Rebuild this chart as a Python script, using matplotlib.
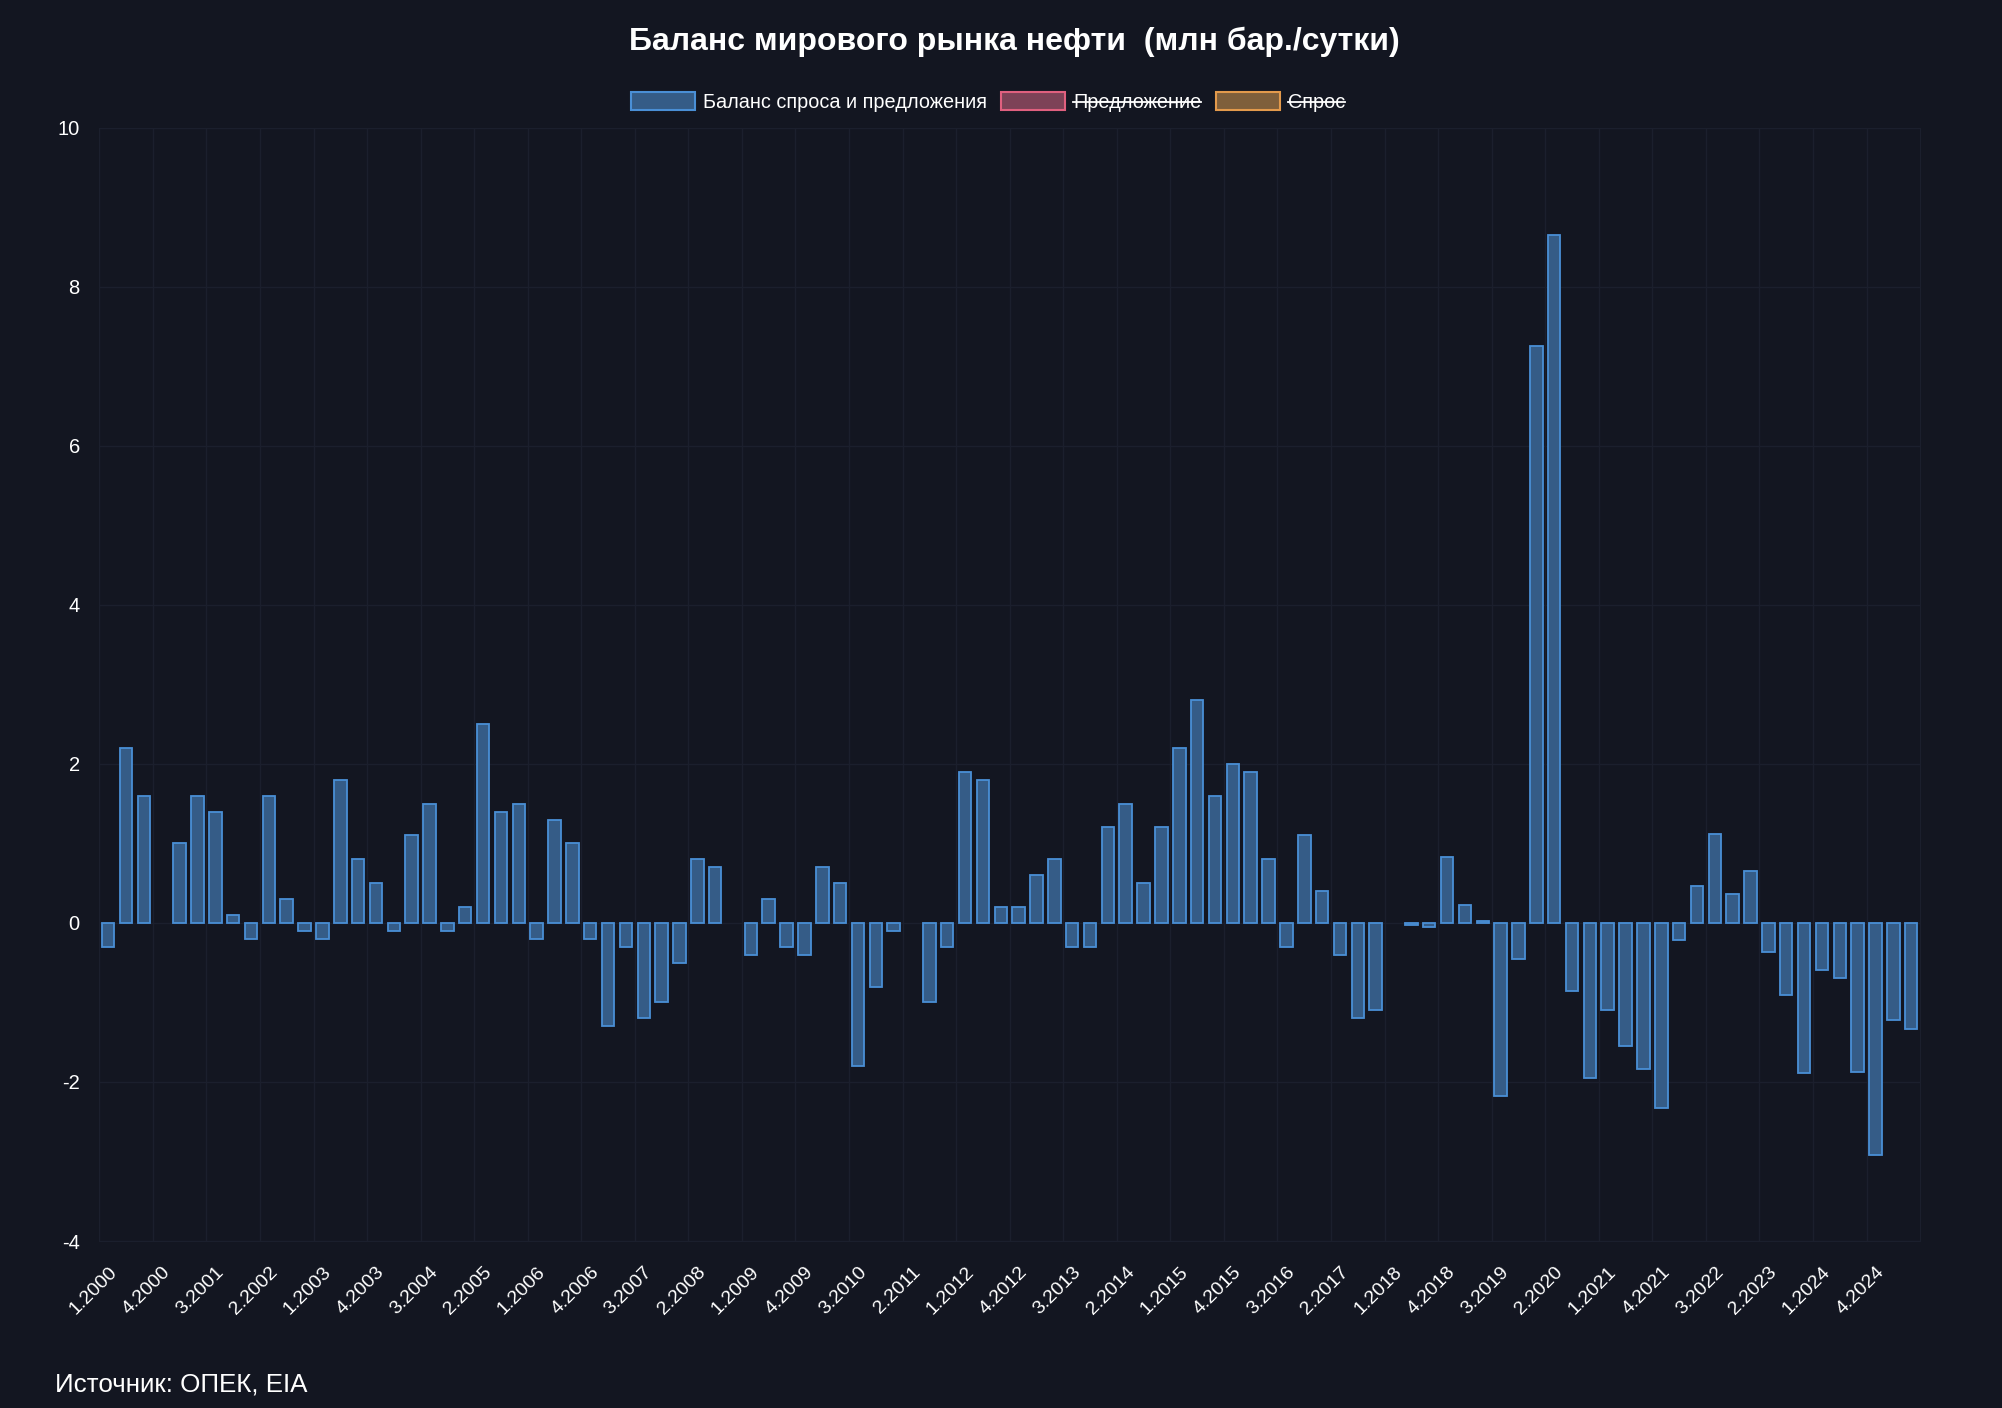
"""
Баланс мирового рынка нефти, квартальные данные 2000-2025.
"""
import numpy as np
import matplotlib.pyplot as plt
from matplotlib.patches import Patch

BG = "#131621"
GRID = "#1b1f2d"
TEXT = "#ffffff"

quarters = [f"{q}.{y}" for y in range(2000, 2026) for q in range(1, 5)][:102]

# nan - квартал без значения (столбец не рисуется)
balance = [
    -0.3, 2.2, 1.6, np.nan, 1.0, 1.6, 1.4, 0.1, -0.2, 1.6,
    0.3, -0.1, -0.2, 1.8, 0.8, 0.5, -0.1, 1.1, 1.5, -0.1,
    0.2, 2.5, 1.4, 1.5, -0.2, 1.3, 1.0, -0.2, -1.3, -0.3,
    -1.2, -1.0, -0.5, 0.8, 0.7, np.nan, -0.4, 0.3, -0.3, -0.4,
    0.7, 0.5, -1.8, -0.8, -0.1, np.nan, -1.0, -0.3, 1.9, 1.8,
    0.2, 0.2, 0.6, 0.8, -0.3, -0.3, 1.2, 1.5, 0.5, 1.2,
    2.2, 2.8, 1.6, 2.0, 1.9, 0.8, -0.3, 1.1, 0.4, -0.4,
    -1.2, -1.1, np.nan, -0.02, -0.05, 0.83, 0.22, 0.03, -2.18, -0.45,
    7.25, 8.65, -0.86, -1.95, -1.09, -1.55, -1.84, -2.33, -0.21, 0.46,
    1.12, 0.37, 0.65, -0.37, -0.91, -1.89, -0.59, -0.69, -1.87, -2.92,
    -1.22, -1.33,
]

legend_names = ["Баланс спроса и предложения", "Предложение", "Спрос"]
legend_fill = ["#355c87", "#7d4257", "#7f5f3b"]
legend_edge = ["#4a8fd6", "#e0607f", "#e39a4c"]

y_ticks = [-4, -2, 0, 2, 4, 6, 8, 10]

plt.rcParams["font.family"] = ["Liberation Sans", "DejaVu Sans"]

fig = plt.figure(figsize=(20.02, 14.08), dpi=100, facecolor=BG)
ax = fig.add_axes([0.0496, 0.1186, 0.9095, 0.7907], facecolor=BG)

x = np.arange(len(balance))
ax.bar(x, balance, width=0.7, color=legend_fill[0], edgecolor=legend_edge[0],
       linewidth=1.3, zorder=3)

ax.set_xlim(-0.5, len(balance) - 0.5)
ax.set_ylim(-4, 10)
ax.set_yticks(y_ticks)
ax.set_yticklabels([str(t) for t in y_ticks])

tick_idx = x[::3]
ax.set_xticks(tick_idx)
ax.set_xticklabels([quarters[i] for i in tick_idx], rotation=45, ha="right",
                   va="top", rotation_mode="anchor")
ax.tick_params(axis="both", length=0, colors=TEXT)
ax.tick_params(axis="x", pad=16, labelsize=14)
ax.tick_params(axis="y", pad=14, labelsize=14.5)

# сетка: горизонтальные линии по делениям, вертикальные между столбцами
for t in y_ticks:
    ax.axhline(t, color=GRID, linewidth=1, zorder=1)
for i in tick_idx:
    ax.axvline(i - 0.5, color=GRID, linewidth=1, zorder=1)
for s in ax.spines.values():
    s.set_color(GRID)

fig.text(0.5067, 0.9705, "Баланс мирового рынка нефти  (млн бар./сутки)",
         ha="center", va="center", color=TEXT, fontsize=23, fontweight="bold")

handles = [Patch(facecolor=f, edgecolor=e, linewidth=1.5)
           for f, e in zip(legend_fill, legend_edge)]
leg = fig.legend(handles, legend_names, loc="center", bbox_to_anchor=(0.4935, 0.9275),
                 ncol=3, frameon=False, fontsize=14.3, handlelength=3.2,
                 handleheight=1.0, handletextpad=0.4, columnspacing=0.75)
for t in leg.get_texts():
    t.set_color(TEXT)

# скрытые ряды зачёркнуты, как в исходном графике
fig.canvas.draw()
for t in leg.get_texts()[1:]:
    bb = t.get_window_extent()
    yc = (bb.y0 + bb.y1) / 2 / fig.bbox.height
    fig.add_artist(plt.Line2D([bb.x0 / fig.bbox.width, bb.x1 / fig.bbox.width],
                              [yc, yc], color=TEXT, linewidth=1.3))

fig.text(0.0275, 0.0085, "Источник: ОПЕК, EIA", ha="left", va="bottom",
         color=TEXT, fontsize=18.7)

fig.savefig("out.png", dpi=100, facecolor=BG)
